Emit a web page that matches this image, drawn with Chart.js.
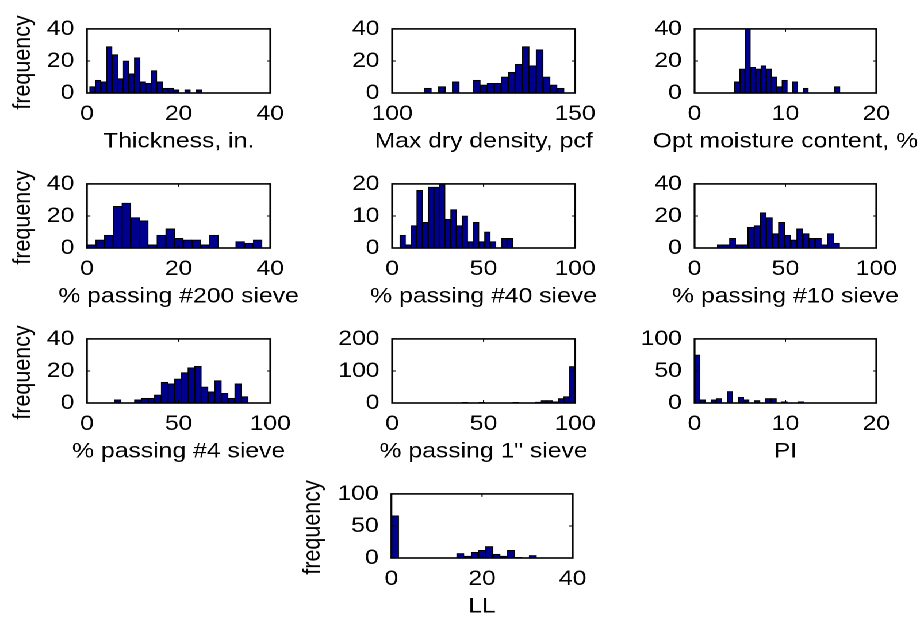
<!DOCTYPE html>
<html>
<head>
<meta charset="utf-8">
<script src="https://cdn.jsdelivr.net/npm/chart.js@4.4.1/dist/chart.umd.min.js"></script>
<style>
  html, body { margin: 0; background: #fff; overflow: hidden; }
  /* the whole figure is drawn narrow and stretched sideways */
  #fig { position: relative; width: 803px; height: 619px; transform: scaleX(1.15); transform-origin: 0 0; }
  #fig canvas { position: absolute; }
</style>
</head>
<body>
<div id="fig"></div>
<script>
// histogram counts, 20 bins each
const thickness   = [4, 8, 7, 29, 24, 9, 20, 12, 22, 7, 6, 14, 7, 3, 3, 2, 0, 2, 0, 2];
const maxDensity  = [3, 0, 4, 0, 7, 0, 0, 8, 5, 6, 6, 10, 13, 18, 29, 17, 27, 10, 5, 3];
const optMoisture = [7, 15, 40, 16, 15, 17, 15, 10, 4, 8, 0, 7, 0, 3, 0, 0, 0, 0, 0, 4];
const pass200     = [2, 5, 8, 26, 28, 19, 17, 2, 8, 12, 6, 5, 5, 2, 8, 0, 0, 4, 3, 5];
const pass40      = [4, 1, 7, 18, 8, 19, 19, 20, 9, 12, 7, 10, 2, 8, 2, 5, 2, 0, 3, 3];
const pass10      = [2, 2, 6, 2, 2, 13, 14, 22, 19, 9, 16, 8, 5, 12, 9, 6, 6, 2, 9, 3];
const pass4       = [2, 0, 0, 2, 3, 3, 5, 13, 12, 15, 19, 22, 23, 10, 7, 14, 6, 3, 12, 4];
const pass1in     = [2, 0, 0, 2, 0, 0, 0, 0, 0, 2, 0, 0, 0, 3, 8, 8, 4, 14, 20, 114];
const plasticity  = [75, 5, 0, 5, 7, 0, 18, 0, 9, 5, 0, 4, 0, 7, 7, 0, 2, 0, 0, 2];
const liquidLimit = [66, 0, 0, 0, 0, 0, 0, 0, 0, 7, 3, 9, 12, 18, 6, 3, 12, 1, 0, 4];

// data range each histogram was binned over
const thicknessRange   = [0.6, 25];
const maxDensityRange  = [108.8, 147];
const optMoistureRange = [4.4, 16];
const pass200Range     = [0, 38.2];
const pass40Range      = [4.2, 66];
const pass10Range      = [12.5, 79.8];
const pass4Range       = [15, 87.9];
const pass1inRange     = [38.2, 100];
const plasticityRange  = [0, 12];
const liquidLimitRange = [0, 32];

// axis ticks
const ticks0_40  = [0, 20, 40];
const ticks0_20  = [0, 10, 20];
const ticks0_100 = [0, 50, 100];
const ticksDensity = [100, 150];
const ticksY20  = [0, 10, 20];
const ticksY40  = [0, 20, 40];
const ticksY100 = [0, 50, 100];
const ticksY200 = [0, 100, 200];

const panels = [
  {label: 'Thickness, in.',          counts: thickness,   range: thicknessRange,   xt: ticks0_40,    yt: ticksY40,  cell: [0, 0], ylab: 64},
  {label: 'Max dry density, pcf',    counts: maxDensity,  range: maxDensityRange,  xt: ticksDensity, yt: ticksY40,  cell: [1, 0]},
  {label: 'Opt moisture content, %', counts: optMoisture, range: optMoistureRange, xt: ticks0_20,    yt: ticksY40,  cell: [2, 0]},
  {label: '% passing #200 sieve',    counts: pass200,     range: pass200Range,     xt: ticks0_40,    yt: ticksY40,  cell: [0, 1], ylab: 64},
  {label: '% passing #40 sieve',     counts: pass40,      range: pass40Range,      xt: ticks0_100,   yt: ticksY20,  cell: [1, 1]},
  {label: '% passing #10 sieve',     counts: pass10,      range: pass10Range,      xt: ticks0_100,   yt: ticksY40,  cell: [2, 1]},
  {label: '% passing #4 sieve',      counts: pass4,       range: pass4Range,       xt: ticks0_100,   yt: ticksY40,  cell: [0, 2], ylab: 64},
  {label: '% passing 1" sieve',      counts: pass1in,     range: pass1inRange,     xt: ticks0_100,   yt: ticksY200, cell: [1, 2]},
  {label: 'PI',                      counts: plasticity,  range: plasticityRange,  xt: ticks0_20,    yt: ticksY100, cell: [2, 2]},
  {label: 'LL',                      counts: liquidLimit, range: liquidLimitRange, xt: ticks0_40,    yt: ticksY100, cell: [1, 3], ylab: 78.7, boxW: 181.5},
];

// subplot grid (axes boxes, in stretched pixels)
const SX = 1.15;
const colLeft = [87.3, 391.7, 695];
const colWidth = [184.4, 183.3, 181.7];
const rowTop = [19, 174, 329.3, 484.3];
const boxH = 74;

const FAMILY = "'Liberation Sans', Arial, Helvetica, sans-serif";
const FONT = {family: FAMILY, size: 21.5, lineHeight: 1.2};
const LH = FONT.size * FONT.lineHeight;
const PAD_T = 14, PAD_R = 48, XH = 64;

Chart.defaults.color = '#000';

// axes box with small inward ticks on all four sides, plus the axis labels
const frame = {
  id: 'frame',
  afterDatasetsDraw(chart, args, opts) {
    const {ctx, chartArea: a, scales: {x, y}} = chart;
    ctx.save();
    ctx.strokeStyle = '#000';
    ctx.lineWidth = 1;
    ctx.beginPath();
    x.ticks.forEach(t => {
      const px = x.getPixelForValue(t.value);
      ctx.moveTo(px, a.bottom); ctx.lineTo(px, a.bottom - 3);
      ctx.moveTo(px, a.top); ctx.lineTo(px, a.top + 3);
    });
    y.ticks.forEach(t => {
      const py = y.getPixelForValue(t.value);
      ctx.moveTo(a.left, py); ctx.lineTo(a.left + 3, py);
      ctx.moveTo(a.right, py); ctx.lineTo(a.right - 3, py);
    });
    ctx.stroke();
    ctx.lineWidth = 1.6;
    ctx.strokeRect(a.left, a.top, a.right - a.left, a.bottom - a.top);

    ctx.fillStyle = '#000';
    ctx.font = FONT.size + 'px ' + FAMILY;
    ctx.textAlign = 'center';
    ctx.textBaseline = 'alphabetic';
    ctx.fillText(opts.xLabel, (a.left + a.right) / 2, a.bottom + 54.7);
    if (opts.yGap) {
      ctx.translate(a.left - opts.yGap, (a.top + a.bottom) / 2 + 1.5);
      ctx.rotate(-Math.PI / 2);
      ctx.textBaseline = 'middle';
      ctx.fillText('frequency', 0, 0);
    }
    ctx.restore();
  }
};

const fig = document.getElementById('fig');

panels.forEach(p => {
  const [c, r] = p.cell;
  const axL = colLeft[c] / SX, axW = (p.boxW || colWidth[c]) / SX;
  const yw = p.ylab ? p.ylab / SX + LH / 2 : 60;
  const cv = document.createElement('canvas');
  cv.width = yw + axW + PAD_R;
  cv.height = PAD_T + boxH + XH;
  cv.style.left = (axL - yw) + 'px';
  cv.style.top = (rowTop[r] - PAD_T) + 'px';
  fig.appendChild(cv);

  const [lo, hi] = p.range;
  const bw = (hi - lo) / p.counts.length;
  const data = p.counts.map((n, i) => ({x: lo + (i + 0.5) * bw, y: n}));

  new Chart(cv, {
    type: 'bar',
    data: {
      datasets: [{
        data,
        backgroundColor: '#00008f',
        borderColor: '#000',
        borderWidth: 1,
        categoryPercentage: 1,
        barPercentage: 1
      }]
    },
    options: {
      responsive: false,
      animation: false,
      devicePixelRatio: 2,
      layout: {padding: {top: PAD_T, right: PAD_R, left: 0, bottom: 0}},
      plugins: {
        legend: {display: false},
        tooltip: {enabled: false},
        frame: {xLabel: p.label, yGap: p.ylab ? p.ylab / SX : 0}
      },
      scales: {
        x: {
          type: 'linear',
          offset: false,
          min: p.xt[0], max: p.xt[p.xt.length - 1],
          grid: {display: false, drawTicks: false},
          border: {display: false},
          ticks: {font: FONT, padding: 8.4, maxRotation: 0, autoSkip: false},
          afterBuildTicks: s => { s.ticks = p.xt.map(v => ({value: v})); },
          afterFit: s => { s.height = XH; }
        },
        y: {
          min: p.yt[0], max: p.yt[p.yt.length - 1],
          grid: {display: false, drawTicks: false},
          border: {display: false},
          ticks: {font: FONT, padding: 11},
          afterBuildTicks: s => { s.ticks = p.yt.map(v => ({value: v})); },
          afterFit: s => { s.width = yw; }
        }
      }
    },
    plugins: [frame]
  });
});
</script>
</body>
</html>
